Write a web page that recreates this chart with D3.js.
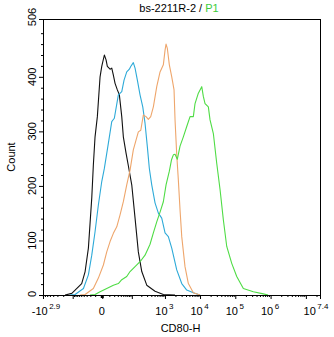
<!DOCTYPE html>
<html><head><meta charset="utf-8">
<script src="https://cdn.jsdelivr.net/npm/d3@7"></script>
<style>
body{margin:0;background:#fff}
svg text{font-family:"Liberation Sans",Arial,sans-serif;fill:#000}
</style>
</head><body>
<svg id="chart" width="334" height="337"></svg>
<script>
// ---- data ----
const titleMain = "bs-2211R-2 / ";
const titleGate = "P1";
const xAxisTitle = "CD80-H";
const yAxisTitle = "Count";
const xDomain = [-794.3, 25118864];   // -10^2.9 .. 10^7.4
const yDomain = [0, 506];
const yTickValues = [0, 100, 200, 300, 400, 506];
const yTickLabels = ["0", "100", "200", "300", "400", "506"];
const xTickValues = [-794.3, 0, 1000, 10000, 100000, 1000000, 25118864];
const xTickBase = ["-10", "0", "10", "10", "10", "10", "10"];
const xTickExp  = ["2.9", "", "3", "4", "5", "6", "7.4"];
const xMajorUnlabeled = [-100, 100, 10000000];

const blackX = [-175,-107,-48,-35,-25,-16.7,-13.4,-10.2,-6.4,-2.6,-0.56,2.5,4.8,6.7,11.3,14.6,18.1,22.2,28.5,34.9,43.7,50.3,63.3,76.3,99.5,127.5,162,207,293,515,898,1946];
const blackY = [0,3,21,43,86,178,238,290,327,400,419,440,431,419,414,416,403,388,376,367,327,290,260,237,202,141,79,43,18,7,1,0];

const cyanX = [-122,-83,-41,-25,-16.7,-10.2,-4.9,-0.56,2.5,8.3,14.6,20.4,31.6,43.7,53.5,67,82.6,92,112,127.5,151,183,222,260,305,350,412,515,644,807,1006,1251,1566,2176,3023,4194,6460,10010];
const cyanY = [0,1,12,37,73,116,165,208,232,278,318,324,367,373,394,409,414,419,426,416,394,367,345,315,272,232,202,169,150,141,114,107,86,46,21,9,4,0];

const orangeX = [-55,-35,-13.4,-4.9,1.3,5.8,11.3,18.1,26.8,37.3,50.3,67,87.3,112,137,162,193,231,279,327,385,460,578,721,898,1006,1075,1171,1336,1566,1822,1946,2176,2417,2703,3023,3743,4660,6460,10010];
const orangeY = [0,1,12,31,55,79,98,113,125,147,171,202,229,266,284,299,302,330,327,322,327,345,382,409,422,449,460,452,422,400,376,321,257,211,156,107,52,21,4,0];

const greenX = [-20.7,-10.2,-2.6,5.8,18.1,31.6,43.7,67,87.3,127.5,183,260,327,367,460,578,721,898,1075,1336,1545,1741,1946,2264,2703,3357,4194,5209,6460,7217,8960,11190,12410,13880,17220,19240,23880,29820,37040,45830,57240,79290,109900,169070,324500,623400,846600];
const greenY = [0,1,6,12,18,21,28,34,43,52,61,73,86,93,114,134,152,171,202,227,248,257,258,249,273,290,309,327,327,351,370,382,364,351,345,321,296,241,193,138,89,58,34,12,6,2,0];

const seriesNames = ["black", "cyan", "orange", "green"];
const seriesX = [blackX, cyanX, orangeX, greenX];
const seriesY = [blackY, cyanY, orangeY, greenY];

// ---- styles / layout ----
const colors = {black:"#111111", cyan:"#2eaad8", orange:"#eea66c", green:"#4fdc45"};
const L = 43, R = 320, T = 19, B = 295;

const svg = d3.select("#chart");
const x = d3.scaleSymlog().constant(17).domain(xDomain).range([L, R]);
const y = d3.scaleLinear().domain(yDomain).range([B, T]);

// minor ticks (tick marks only)
const xMinor = [];
for (let v = 200; v <= 800; v += 100) xMinor.push(-v);
for (let v = 10; v <= 90; v += 10) { xMinor.push(-v); xMinor.push(v); }
for (let v = 200; v <= 900; v += 100) xMinor.push(v);
for (let d = 3; d <= 6; d++) for (let m = 2; m <= 9; m++) xMinor.push(m * Math.pow(10, d));
xMinor.push(2e7);
const yMinor = d3.range(20, 506, 20).filter(v => v % 100 !== 0);

// frame top/right
svg.append("line").attr("x1", L).attr("x2", R + 0.5).attr("y1", T + 0.5).attr("y2", T + 0.5)
  .attr("stroke", "#000").attr("stroke-width", 1);
svg.append("line").attr("x1", R + 0.5).attr("x2", R + 0.5).attr("y1", T).attr("y2", B + 0.5)
  .attr("stroke", "#000").attr("stroke-width", 1);

// curves
const line = d3.line().x(d => x(d[0])).y(d => y(d[1]));
seriesNames.forEach((name, i) => {
  const pts = seriesX[i].map((v, j) => [v, seriesY[i][j]]);
  svg.append("path").datum(pts).attr("d", line)
    .attr("fill", "none").attr("stroke", colors[name]).attr("stroke-width", 1.1)
    .attr("stroke-linejoin", "round");
});

// x axis
const gx = svg.append("g").attr("transform", `translate(0,${B})`);
gx.call(d3.axisBottom(x).tickValues(xTickValues.concat(xMajorUnlabeled)).tickSize(4).tickSizeOuter(0).tickFormat(""));
gx.append("g").call(d3.axisBottom(x).tickValues(xMinor).tickSize(2).tickSizeOuter(0).tickFormat(""))
  .select(".domain").remove();
gx.selectAll("path,line").attr("stroke", "#000");
// thick marker at zero
svg.append("rect").attr("x", x(0) - 1.5).attr("y", B).attr("width", 3).attr("height", 3).attr("fill", "#000");

// x tick labels
xTickValues.forEach((v, i) => {
  let cx = x(v) - 0.5;
  if (i === 0) cx = x(v) + 3;
  if (i === xTickValues.length - 1) cx = x(v) - 4;
  const t = svg.append("text").attr("x", cx).attr("y", 314.5)
    .attr("text-anchor", "middle").attr("font-size", 11);
  t.append("tspan").text(xTickBase[i]);
  if (xTickExp[i]) t.append("tspan").attr("dy", -5.5).attr("dx", 1.5).attr("font-size", 8).text(xTickExp[i]);
});

// y axis
const gy = svg.append("g").attr("transform", `translate(${L},0)`);
gy.call(d3.axisLeft(y).tickValues(yTickValues).tickSize(4).tickSizeOuter(0).tickFormat(""));
gy.append("g").call(d3.axisLeft(y).tickValues(yMinor).tickSize(2).tickSizeOuter(0).tickFormat(""))
  .select(".domain").remove();
gy.selectAll("path,line").attr("stroke", "#000");

yTickValues.forEach((v, i) => {
  let cy = y(v);
  if (i === 0) cy -= 1;
  if (i === yTickValues.length - 1) cy -= 2;
  svg.append("text").attr("transform", `translate(35.5,${cy}) rotate(-90)`)
    .attr("text-anchor", "middle").attr("font-size", 11).text(yTickLabels[i]);
});

// titles
const tt = svg.append("text").attr("x", 179).attr("y", 11.5).attr("text-anchor", "middle").attr("font-size", 11);
tt.append("tspan").text(titleMain);
tt.append("tspan").attr("fill", "#3ccc3c").style("fill", "#3ccc3c").text(titleGate);

svg.append("text").attr("x", 180.5).attr("y", 331.5).attr("text-anchor", "middle").attr("font-size", 11).text(xAxisTitle);
svg.append("text").attr("transform", "translate(15,157) rotate(-90)").attr("text-anchor", "middle")
  .attr("font-size", 11).text(yAxisTitle);
</script>
</body></html>
